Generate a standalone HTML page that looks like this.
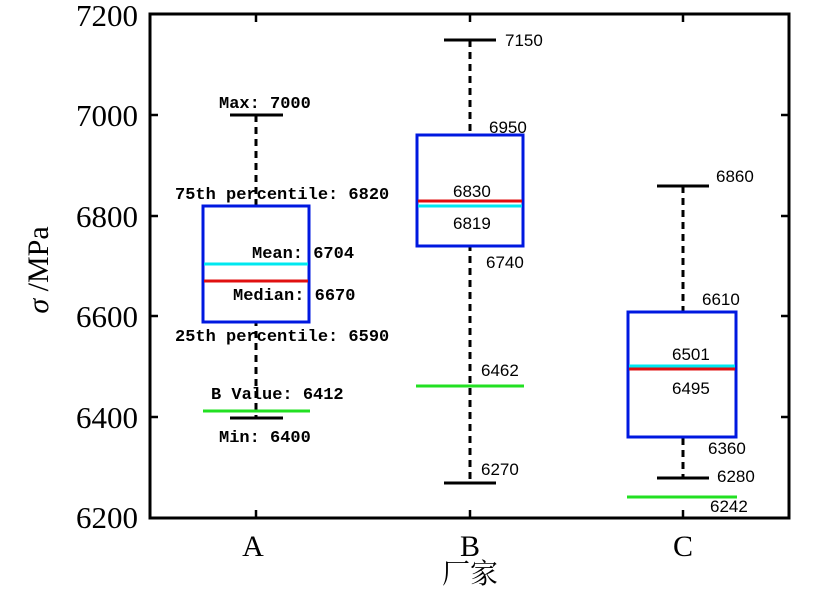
<!DOCTYPE html>
<html><head><meta charset="utf-8"><style>
html,body{margin:0;padding:0;background:#fff;width:827px;height:591px;overflow:hidden}
svg text{fill:#000}
.m{font-family:"Liberation Mono",monospace;font-size:17px;font-weight:bold}
.n{font-family:"Liberation Sans",sans-serif;font-size:17px}
.t{font-family:"Liberation Serif",serif;font-size:31px}
</style></head><body>
<svg width="827" height="591" viewBox="0 0 827 591" xmlns="http://www.w3.org/2000/svg">
<!-- axes -->
<rect x="150" y="14" width="639" height="504" fill="none" stroke="#000" stroke-width="3"/>
<g stroke="#000" stroke-width="2.5">
<line x1="150" y1="115" x2="158" y2="115"/><line x1="150" y1="216" x2="158" y2="216"/><line x1="150" y1="316" x2="158" y2="316"/><line x1="150" y1="417" x2="158" y2="417"/>
<line x1="789" y1="115" x2="781" y2="115"/><line x1="789" y1="216" x2="781" y2="216"/><line x1="789" y1="316" x2="781" y2="316"/><line x1="789" y1="417" x2="781" y2="417"/>
<line x1="256" y1="518" x2="256" y2="510"/><line x1="470" y1="518" x2="470" y2="510"/><line x1="683" y1="518" x2="683" y2="510"/>
<line x1="256" y1="14" x2="256" y2="22"/><line x1="470" y1="14" x2="470" y2="22"/><line x1="683" y1="14" x2="683" y2="22"/>
</g>
<g class="t" text-anchor="end">
<text x="138" y="26">7200</text><text x="138" y="126">7000</text><text x="138" y="227">6800</text><text x="138" y="327">6600</text><text x="138" y="428">6400</text><text x="138" y="528">6200</text>
</g>
<g class="t" text-anchor="middle" font-size="30">
<text x="253" y="556" style="font-size:30px">A</text><text x="470" y="556" style="font-size:30px">B</text><text x="683" y="556" style="font-size:30px">C</text>
</g>
<text x="470" y="583" text-anchor="middle" style="font-family:'Liberation Serif','Noto Serif CJK SC',serif;font-size:28px">厂家</text>
<text transform="translate(48,270) rotate(-90)" text-anchor="middle" style="font-family:'Liberation Serif',serif;font-size:30px"><tspan font-style="italic">σ</tspan> /MPa</text>

<!-- whiskers -->
<g stroke="#000" stroke-width="3" stroke-dasharray="7,5">
<line x1="256" y1="115" x2="256" y2="418"/>
<line x1="470" y1="40" x2="470" y2="483"/>
<line x1="683" y1="186" x2="683" y2="478"/>
</g>
<g stroke="#000" stroke-width="3">
<line x1="230" y1="115" x2="283" y2="115"/><line x1="230" y1="418" x2="283" y2="418"/>
<line x1="444" y1="40" x2="496" y2="40"/><line x1="444" y1="483" x2="496" y2="483"/>
<line x1="657" y1="186" x2="709" y2="186"/><line x1="657" y1="478" x2="709" y2="478"/>
</g>
<!-- boxes -->
<g fill="#fff" stroke="#0018e0" stroke-width="3">
<rect x="203" y="206" width="106" height="116"/>
<rect x="417" y="135" width="106" height="111"/>
<rect x="628" y="312" width="108" height="125"/>
</g>
<g stroke-width="3">
<line x1="204" y1="264" x2="308" y2="264" stroke="#00e8f0"/><line x1="204" y1="281" x2="308" y2="281" stroke="#e01010"/>
<line x1="418" y1="206" x2="522" y2="206" stroke="#00e8f0"/><line x1="418" y1="201" x2="522" y2="201" stroke="#e01010"/>
<line x1="629" y1="366" x2="735" y2="366" stroke="#00e8f0"/><line x1="629" y1="369" x2="735" y2="369" stroke="#e01010"/>
<line x1="203" y1="411" x2="310" y2="411" stroke="#22e022"/>
<line x1="416" y1="386" x2="524" y2="386" stroke="#22e022"/>
<line x1="627" y1="497" x2="737" y2="497" stroke="#22e022"/>
</g>
<!-- labels A -->
<g class="m">
<text x="219" y="108">Max: 7000</text>
<text x="175" y="199">75th percentile: 6820</text>
<text x="252" y="258">Mean: 6704</text>
<text x="233" y="300">Median: 6670</text>
<text x="175" y="341">25th percentile: 6590</text>
<text x="211" y="399">B Value: 6412</text>
<text x="219" y="442">Min: 6400</text>
</g>
<g class="n">
<text x="505" y="46">7150</text><text x="489" y="133">6950</text><text x="453" y="197">6830</text><text x="453" y="229">6819</text><text x="486" y="268">6740</text><text x="481" y="376">6462</text><text x="481" y="475">6270</text>
<text x="716" y="182">6860</text><text x="702" y="305">6610</text><text x="672" y="360">6501</text><text x="672" y="394">6495</text><text x="708" y="454">6360</text><text x="717" y="482">6280</text><text x="710" y="512">6242</text>
</g>
</svg>
</body></html>
